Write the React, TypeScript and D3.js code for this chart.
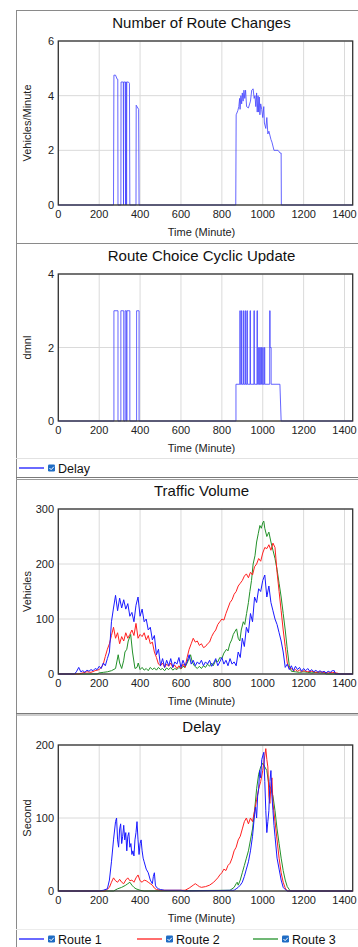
import React from 'react';
import * as d3 from 'd3';

type Pt = [number, number];

const xTicks = [0, 200, 400, 600, 800, 1000, 1200, 1400];

// Number of Route Changes (Vehicles/Minute)
const routeChanges: Pt[] = [
  [0, 0], [270, 0], [272, 4.75], [280, 4.75], [288, 4.6], [291, 4.6], [292, 0],
  [306, 0], [307, 4.5], [318, 4.5], [319, 0], [320, 4.5], [328, 4.5], [329, 0],
  [330, 4.5], [333, 4.5], [334, 0], [335, 4.5], [343, 4.5], [348, 4.45], [350, 0],
  [380, 0], [381, 3.65], [385, 3.6], [393, 3.5], [395, 0],
  [868, 0], [870, 3.3], [878, 3.45], [883, 3.6], [887, 3.9], [889, 3.5], [893, 4.0],
  [897, 3.7], [900, 4.1], [904, 3.8], [908, 4.2], [912, 3.9], [916, 4.2], [921, 3.6],
  [930, 3.55], [940, 3.8], [946, 4.2], [953, 4.25], [958, 3.9], [962, 4.0], [966, 3.6],
  [970, 4.1], [973, 3.4], [977, 4.0], [980, 3.4], [983, 3.95], [986, 3.3], [990, 3.7],
  [995, 3.5], [1000, 3.2], [1005, 3.6], [1008, 3.0], [1015, 2.8], [1020, 3.2],
  [1025, 2.6], [1030, 2.7], [1040, 2.4], [1045, 2.3], [1055, 2.0], [1075, 2.0],
  [1085, 1.9], [1090, 1.9], [1091, 0], [1440, 0],
];

// Route Choice Cyclic Update (dmnl)
const cyclicUpdate: Pt[] = [
  [0, 0], [272, 0], [272, 3], [292, 3], [292, 0], [306, 0], [306, 3], [320, 3], [320, 0],
  [327, 0], [327, 3], [333, 3], [333, 0], [336, 0], [336, 3], [350, 3], [350, 0],
  [383, 0], [383, 3], [395, 3], [395, 0],
  [869, 0], [869, 1], [888, 1], [888, 3], [890, 3], [890, 1], [896, 1], [896, 3], [898, 3],
  [898, 1], [906, 1], [906, 3], [908, 3], [908, 1], [915, 1], [915, 3], [917, 3], [917, 1],
  [923, 1], [923, 3], [925, 3], [925, 1], [938, 1], [938, 3], [940, 3], [940, 1],
  [957, 1], [957, 3], [959, 3], [959, 1], [972, 1], [972, 3], [974, 3], [974, 1],
  [980, 1], [980, 2], [982, 2], [982, 1], [986, 1], [986, 2], [988, 2], [988, 1],
  [993, 1], [993, 2], [995, 2], [995, 1], [1000, 1], [1000, 2], [1002, 2], [1002, 1],
  [1008, 1], [1008, 2], [1010, 2], [1010, 1], [1034, 1], [1034, 3], [1036, 3], [1036, 2],
  [1041, 2], [1041, 1], [1084, 1], [1090, 0], [1440, 0],
];

// Traffic Volume (Vehicles)
const volumeRoute1: Pt[] = [
  [0, 0], [80, 0], [90, 5], [100, 12], [110, 4], [120, 6], [130, 3], [140, 7], [150, 5],
  [160, 8], [170, 6], [180, 10], [190, 8], [200, 14], [210, 10], [220, 20], [230, 15],
  [240, 28], [250, 40], [260, 95], [270, 120], [280, 143], [290, 115], [300, 138],
  [310, 120], [320, 135], [330, 118], [340, 128], [350, 105], [360, 112], [370, 95],
  [380, 125], [390, 140], [400, 105], [410, 118], [420, 95], [430, 100], [440, 80],
  [450, 85], [460, 62], [470, 70], [480, 35], [490, 45], [500, 15], [510, 28], [520, 12],
  [530, 25], [540, 15], [550, 28], [560, 12], [570, 22], [580, 18], [590, 30], [600, 12],
  [610, 25], [620, 15], [630, 22], [640, 35], [650, 18], [660, 25], [670, 15], [680, 22],
  [690, 18], [700, 25], [710, 15], [720, 22], [730, 18], [740, 25], [750, 14], [760, 20],
  [770, 28], [780, 15], [790, 22], [800, 30], [810, 18], [820, 25], [830, 15], [840, 28],
  [850, 18], [860, 22], [870, 15], [880, 40], [890, 30], [900, 65], [910, 50], [920, 85],
  [930, 75], [940, 110], [950, 95], [960, 140], [970, 130], [980, 155], [990, 150],
  [1000, 170], [1010, 180], [1020, 140], [1030, 160], [1040, 130], [1050, 115],
  [1060, 100], [1070, 90], [1080, 75], [1090, 60], [1100, 40], [1110, 12], [1120, 18],
  [1130, 8], [1140, 15], [1150, 6], [1160, 14], [1170, 8], [1180, 12], [1190, 5],
  [1200, 10], [1210, 6], [1220, 10], [1230, 5], [1240, 8], [1250, 4], [1260, 7],
  [1270, 3], [1280, 6], [1290, 3], [1300, 5], [1310, 2], [1320, 5], [1330, 3],
  [1340, 6], [1350, 6], [1355, 0], [1440, 0],
];

const volumeRoute2: Pt[] = [
  [0, 0], [100, 0], [120, 2], [140, 4], [160, 3], [180, 6], [200, 8], [210, 12], [220, 18],
  [230, 32], [240, 45], [250, 55], [260, 70], [270, 85], [280, 65], [290, 75], [300, 55],
  [310, 68], [320, 60], [330, 75], [340, 65], [350, 72], [360, 80], [370, 70], [380, 92],
  [390, 65], [400, 72], [410, 68], [420, 75], [430, 62], [440, 70], [450, 55], [460, 58],
  [470, 40], [480, 30], [490, 18], [500, 15], [510, 20], [520, 12], [530, 18], [540, 14],
  [550, 20], [560, 12], [570, 16], [580, 10], [590, 15], [600, 10], [610, 18], [620, 12],
  [630, 30], [640, 45], [650, 55], [660, 65], [670, 58], [680, 60], [690, 52], [700, 55],
  [710, 48], [720, 50], [730, 55], [740, 58], [750, 68], [760, 75], [770, 80], [780, 90],
  [790, 95], [800, 100], [810, 98], [820, 110], [830, 120], [840, 130], [850, 135],
  [860, 145], [870, 150], [880, 160], [890, 165], [900, 170], [910, 178], [920, 182],
  [930, 175], [940, 185], [950, 180], [960, 195], [970, 200], [980, 210], [990, 205],
  [1000, 220], [1010, 230], [1020, 228], [1030, 235], [1040, 225], [1050, 238],
  [1060, 230], [1070, 185], [1080, 150], [1090, 115], [1100, 80], [1110, 50],
  [1120, 20], [1130, 10], [1140, 10], [1150, 6], [1160, 8], [1170, 5], [1180, 7],
  [1190, 4], [1200, 6], [1220, 4], [1240, 5], [1260, 3], [1280, 4], [1300, 3],
  [1320, 2], [1340, 3], [1360, 2], [1380, 0], [1440, 0],
];

const volumeRoute3: Pt[] = [
  [0, 0], [190, 0], [200, 2], [220, 3], [240, 4], [260, 6], [280, 10], [293, 35],
  [300, 20], [310, 10], [320, 25], [326, 40], [335, 45], [342, 60], [354, 72], [363, 40],
  [375, 10], [385, 12], [391, 20], [400, 8], [410, 12], [420, 7], [430, 10], [440, 6],
  [450, 12], [460, 8], [470, 11], [480, 7], [490, 12], [500, 8], [510, 10], [520, 6],
  [530, 11], [540, 8], [550, 12], [560, 7], [570, 10], [580, 8], [590, 12], [600, 9],
  [610, 14], [620, 12], [630, 20], [640, 28], [647, 35], [655, 22], [665, 15], [680, 10],
  [690, 14], [700, 10], [710, 15], [720, 12], [730, 18], [740, 14], [750, 20], [758, 15],
  [770, 25], [780, 22], [790, 30], [800, 28], [810, 38], [823, 45], [830, 42], [839, 55],
  [848, 62], [856, 72], [865, 78], [872, 82], [880, 65], [888, 60], [895, 80], [905, 95],
  [912, 90], [921, 110], [930, 130], [937, 150], [945, 170], [953, 200], [962, 215],
  [970, 240], [978, 255], [986, 270], [993, 265], [1000, 275], [1005, 278], [1010, 265],
  [1020, 250], [1030, 258], [1040, 240], [1050, 225], [1060, 210], [1070, 190],
  [1080, 165], [1090, 140], [1100, 110], [1110, 80], [1120, 45], [1130, 15], [1140, 5],
  [1160, 4], [1180, 3], [1200, 4], [1220, 3], [1240, 2], [1260, 3], [1280, 2],
  [1300, 2], [1310, 0], [1440, 0],
];

// Delay (Second)
const delayRoute1: Pt[] = [
  [0, 0], [200, 0], [220, 1], [240, 3], [250, 15], [260, 40], [270, 70], [280, 95],
  [285, 100], [290, 70], [295, 60], [300, 85], [305, 92], [310, 65], [315, 75], [320, 90],
  [325, 70], [330, 80], [335, 55], [340, 75], [345, 80], [350, 60], [355, 65], [360, 50],
  [365, 55], [370, 48], [375, 70], [380, 80], [385, 95], [390, 70], [395, 50], [400, 65],
  [405, 70], [410, 55], [415, 45], [420, 40], [430, 30], [440, 25], [450, 15], [460, 10],
  [465, 20], [470, 25], [475, 8], [480, 5], [490, 3], [500, 2], [520, 1], [600, 1],
  [620, 0], [860, 1], [870, 3], [880, 5], [890, 8], [900, 12], [910, 20], [920, 30],
  [930, 40], [940, 55], [950, 75], [960, 105], [965, 115], [970, 100], [975, 130],
  [980, 140], [985, 165], [990, 155], [995, 180], [1000, 185], [1005, 190], [1010, 150],
  [1015, 110], [1020, 80], [1025, 95], [1030, 110], [1035, 150], [1040, 165],
  [1045, 130], [1050, 110], [1055, 90], [1060, 75], [1070, 45], [1080, 30], [1090, 15],
  [1100, 5], [1110, 2], [1120, 0], [1440, 0],
];

const delayRoute2: Pt[] = [
  [0, 0], [230, 0], [250, 5], [260, 12], [270, 18], [280, 14], [290, 12], [300, 16],
  [310, 12], [320, 10], [330, 15], [340, 18], [350, 14], [360, 15], [370, 12], [380, 18],
  [390, 22], [400, 14], [410, 12], [420, 15], [430, 14], [440, 12], [450, 10], [460, 8],
  [470, 4], [480, 2], [500, 1], [620, 1], [640, 4], [660, 8], [670, 10], [680, 8],
  [690, 6], [700, 5], [720, 6], [740, 8], [760, 12], [780, 18], [790, 22], [800, 25],
  [810, 30], [820, 28], [830, 35], [840, 38], [850, 45], [860, 55], [870, 60], [880, 70],
  [890, 75], [900, 85], [910, 95], [920, 100], [930, 92], [940, 100], [950, 95],
  [960, 110], [970, 125], [980, 140], [990, 150], [1000, 165], [1005, 175], [1010, 185],
  [1015, 195], [1020, 180], [1025, 170], [1030, 130], [1035, 120], [1040, 145],
  [1045, 155], [1050, 120], [1060, 95], [1070, 70], [1080, 45], [1090, 25], [1100, 12],
  [1110, 4], [1120, 0], [1440, 0],
];

const delayRoute3: Pt[] = [
  [0, 0], [270, 0], [290, 3], [310, 5], [330, 8], [340, 10], [350, 12], [360, 8],
  [370, 5], [380, 3], [400, 1], [420, 0], [840, 1], [860, 5], [870, 10], [875, 12],
  [880, 8], [890, 15], [900, 25], [910, 35], [920, 45], [930, 55], [940, 70], [950, 85],
  [960, 110], [970, 140], [980, 160], [990, 170], [1000, 175], [1010, 170], [1020, 165],
  [1030, 145], [1040, 140], [1050, 130], [1060, 110], [1070, 85], [1080, 65], [1090, 45],
  [1100, 28], [1110, 15], [1120, 6], [1130, 2], [1135, 0], [1440, 0],
];

const FONT = "'Liberation Sans', Arial, sans-serif";
const BLUE_SOFT = '#4a4aff';
const BLUE = '#1a1aff';
const RED = '#ff2020';
const GREEN = '#23912a';

const X0 = 58.3;
const X1 = 352.7;

type Series = { data: Pt[]; color: string; opacity?: number };

const Panel = ({ top, bottom, title, yLabel, yMax, yTicks, series }: {
  top: number; bottom: number; title: string; yLabel: string; yMax: number;
  yTicks: number[]; series: Series[];
}) => {
  const x = d3.scaleLinear().domain([0, 1440]).range([X0, X1]);
  const y = d3.scaleLinear().domain([0, yMax]).range([bottom, top]);
  const line = d3.line<Pt>().x(d => x(d[0])).y(d => y(d[1]));
  return (
    <g>
      <text x={(X0 + X1) / 2 - 4} y={top - 13} textAnchor="middle" fontSize={15} fill="#111">{title}</text>
      {xTicks.map(t => (
        <line key={'gx' + t} x1={x(t)} x2={x(t)} y1={top} y2={bottom} stroke="#dadada" />
      ))}
      {yTicks.map(t => (
        <line key={'gy' + t} x1={X0} x2={X1} y1={y(t)} y2={y(t)} stroke="#dadada" />
      ))}
      {series.map((s, i) => (
        <path key={i} d={line(s.data) || ''} fill="none" stroke={s.color}
          strokeOpacity={s.opacity ?? 1} strokeWidth={1} strokeLinejoin="round" />
      ))}
      <rect x={X0} y={top} width={X1 - X0} height={bottom - top} fill="none" stroke="#333" strokeWidth={1.3} />
      {yTicks.map(t => (
        <text key={'ly' + t} x={54} y={y(t) + 4} textAnchor="end" fontSize={11} fill="#222">{t}</text>
      ))}
      {xTicks.map(t => (
        <text key={'lx' + t} x={x(t)} y={bottom + 13} textAnchor="middle" fontSize={11} fill="#222">{t}</text>
      ))}
      <text x={(X0 + X1) / 2 - 4} y={bottom + 31} textAnchor="middle" fontSize={11} fill="#222">Time (Minute)</text>
      <text transform={`translate(31,${(top + bottom) / 2}) rotate(-90)`} textAnchor="middle" fontSize={11} fill="#222">{yLabel}</text>
    </g>
  );
};

const LegendItem = ({ x, y, color, label }: { x: number; y: number; color: string; label: string }) => (
  <g>
    <line x1={x} x2={x + 25} y1={y} y2={y} stroke={color} strokeWidth={1.3} />
    <rect x={x + 29} y={y - 3.5} width={7} height={7} rx={1.2} fill="#1f6cc4" />
    <path d={`M${x + 30.5},${y} l1.6,1.7 l2.8,-3`} fill="none" stroke="#fff" strokeWidth={1} />
    <text x={x + 39} y={y + 4.5} fontSize={12.5} fill="#111">{label}</text>
  </g>
);

export default function App() {
  return (
    <svg width={358} height={947} style={{ position: 'absolute', left: 0, top: 0, background: '#fff', fontFamily: FONT }}>
      <rect x={0} y={0} width={358} height={947} fill="#fff" />
      {/* frame */}
      <line x1={16.5} x2={16.5} y1={10} y2={947} stroke="#8a8a8a" />
      <line x1={16} x2={358} y1={10.5} y2={10.5} stroke="#8a8a8a" />
      <line x1={16} x2={358} y1={243.5} y2={243.5} stroke="#8a8a8a" />
      <line x1={16} x2={358} y1={458.5} y2={458.5} stroke="#e2e2e2" />
      <line x1={16} x2={358} y1={477.5} y2={477.5} stroke="#7a7a7a" />
      <line x1={16} x2={358} y1={479.5} y2={479.5} stroke="#9a9a9a" />
      <line x1={16} x2={358} y1={713.5} y2={713.5} stroke="#7a7a7a" />
      <line x1={16} x2={358} y1={715} y2={715} stroke="#9a9a9a" />
      <line x1={16} x2={358} y1={929.5} y2={929.5} stroke="#ececec" />

      <Panel top={41} bottom={205} title="Number of Route Changes" yLabel="Vehicles/Minute"
        yMax={6} yTicks={[0, 2, 4, 6]} series={[{ data: routeChanges, color: BLUE_SOFT, opacity: 0.85 }]} />
      <Panel top={274} bottom={421} title="Route Choice Cyclic Update" yLabel="dmnl"
        yMax={4} yTicks={[0, 2, 4]} series={[{ data: cyclicUpdate, color: BLUE_SOFT, opacity: 0.85 }]} />
      <LegendItem x={19} y={468} color={BLUE} label="Delay" />

      <Panel top={509} bottom={674} title="Traffic Volume" yLabel="Vehicles"
        yMax={300} yTicks={[0, 100, 200, 300]}
        series={[
          { data: volumeRoute3, color: GREEN },
          { data: volumeRoute2, color: RED },
          { data: volumeRoute1, color: BLUE },
        ]} />

      <Panel top={745} bottom={891} title="Delay" yLabel="Second"
        yMax={200} yTicks={[0, 100, 200]}
        series={[
          { data: delayRoute3, color: GREEN },
          { data: delayRoute2, color: RED },
          { data: delayRoute1, color: BLUE },
        ]} />
      <LegendItem x={19} y={939} color={BLUE} label="Route 1" />
      <LegendItem x={137} y={939} color={RED} label="Route 2" />
      <LegendItem x={253} y={939} color={GREEN} label="Route 3" />
    </svg>
  );
}
